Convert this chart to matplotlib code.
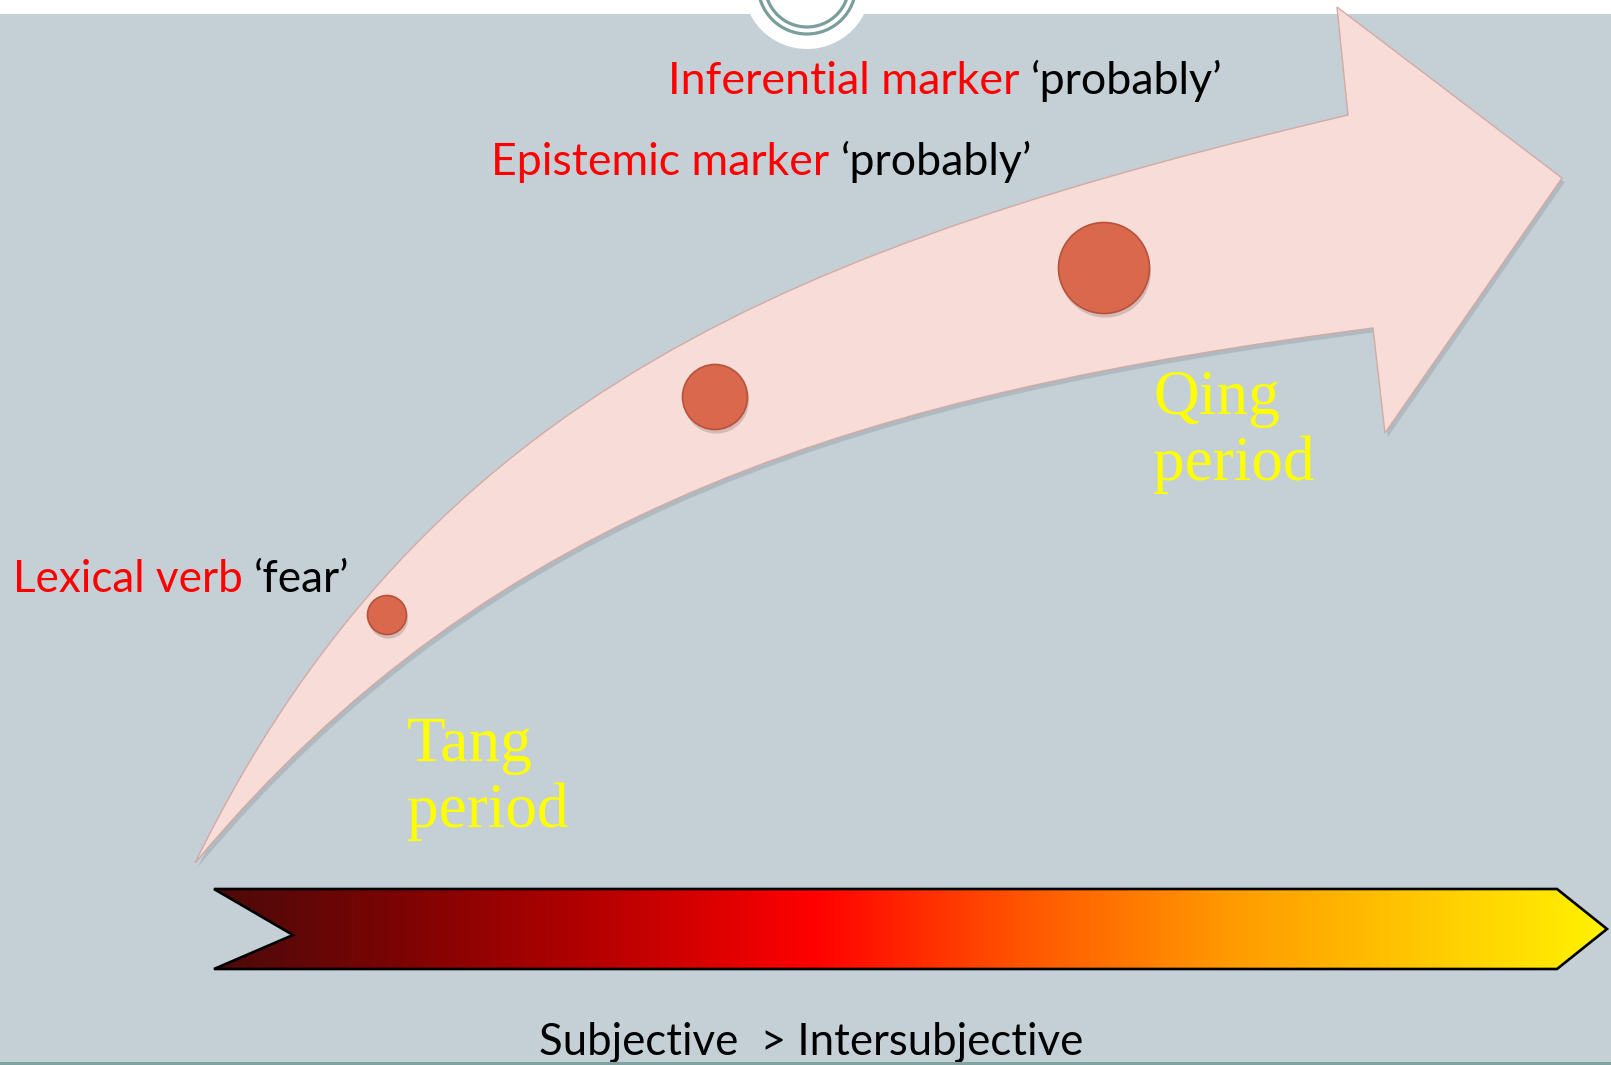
import matplotlib
matplotlib.use("Agg")
import matplotlib.pyplot as plt
import numpy as np
from matplotlib.path import Path
from matplotlib.patches import PathPatch, Circle, Rectangle, Polygon
from matplotlib.colors import LinearSegmentedColormap
import matplotlib.patheffects as pe

# ---------------- data ----------------
stage_terms = ["Lexical verb", "Epistemic marker", "Inferential marker"]
stage_glosses = ["\u2018fear\u2019", "\u2018probably\u2019", "\u2018probably\u2019"]
stage_rank = [1, 2, 3]
period_names = ["Tang", "Qing"]
period_word = "period"
scale_label = "Subjective  > Intersubjective"
gradient_stops = [0.0, 0.12, 0.28, 0.43, 0.58, 0.73, 0.88, 1.0]
gradient_colors = ["#4a0a0a", "#780404", "#b80000", "#ff0000",
                   "#ff5500", "#ff9a00", "#ffcc00", "#fff200"]

# ---------------- layout (pixels, y from top) ----------------
W, H = 1611, 1065
BG = "#c4d0d6"
SANS = ["Lato", "DejaVu Sans"]
SERIF = ["Liberation Serif", "DejaVu Serif"]

fig = plt.figure(figsize=(W / 100, H / 100), dpi=100)
ax = fig.add_axes([0, 0, 1, 1])
ax.set_xlim(0, W)
ax.set_ylim(H, 0)
ax.axis("off")
fig.patch.set_facecolor(BG)
renderer = fig.canvas.get_renderer()

# top white band and ornament
ax.add_patch(Rectangle((0, 0), W, 14, facecolor="white", edgecolor="none", zorder=1))
ax.add_patch(Circle((807, -15), 64, facecolor="white", edgecolor="none", zorder=1))
for r in (49, 42):
    ax.add_patch(Circle((807, -15), r, facecolor="none", edgecolor="#7a9e9b",
                        lw=2.3, zorder=2))

# curved pink arrow
verts = [(195, 863), (425, 392), (800, 245), (1348, 115),
         (1337, 7), (1562, 178), (1385, 433), (1373, 328),
         (873, 393), (495, 503), (195, 863), (195, 863)]
codes = [Path.MOVETO, Path.CURVE4, Path.CURVE4, Path.CURVE4,
         Path.LINETO, Path.LINETO, Path.LINETO, Path.LINETO,
         Path.CURVE4, Path.CURVE4, Path.CURVE4, Path.CLOSEPOLY]
arrow = PathPatch(Path(verts, codes), facecolor="#f7dcd8", edgecolor="#d3aaa6",
                  lw=1.0, zorder=3)
arrow.set_path_effects([pe.SimplePatchShadow(offset=(2, -3), shadow_rgbFace="#7d8a90",
                                             alpha=0.3), pe.Normal()])
ax.add_patch(arrow)

# stage circles
circle_centers = [(387, 615), (715, 397), (1104, 268)]
for (cx, cy), rank in zip(circle_centers, stage_rank):
    c = Circle((cx, cy), 6.5 + 13 * rank, facecolor="#d9684c", edgecolor="#b5533c",
               lw=1.2, zorder=4)
    c.set_path_effects([pe.SimplePatchShadow(offset=(1, -3), shadow_rgbFace="#8a6a66",
                                             alpha=0.3), pe.Normal()])
    ax.add_patch(c)


def width_of(s, size, family):
    t = ax.text(0, 0, s, fontsize=size, family=family)
    w = t.get_window_extent(renderer).width
    t.remove()
    return w


def fitted_text(x, y, parts, colors, target_w, family, base=30):
    full = "".join(parts)
    size = base * target_w / width_of(full, base, family)
    wfull = width_of(full, size, family)
    for i, (p, col) in enumerate(zip(parts, colors)):
        suffix = "".join(parts[i:])
        left = x + wfull - width_of(suffix, size, family)
        ax.text(left, y, p, fontsize=size, family=family, color=col,
                ha="left", va="baseline", zorder=6)


# stage labels
label_pos = [(13, 592, 336), (491, 175, 541), (668, 94, 555)]
for term, gloss, (x, y, tw) in zip(stage_terms, stage_glosses, label_pos):
    fitted_text(x, y, [term + " ", gloss], ["#ff0000", "#000000"], tw, SANS)

# period labels
period_pos = [(407, 761, 827), (1153, 414, 480)]
for name, (x, y1, y2) in zip(period_names, period_pos):
    ax.text(x, y1, name, fontsize=45.5, family=SERIF, color="#ffff00",
            ha="left", va="baseline", zorder=6)
    ax.text(x, y2, period_word, fontsize=45.5, family=SERIF, color="#ffff00",
            ha="left", va="baseline", zorder=6)

# gradient chevron bar
bar_pts = [(214, 889), (1557, 889), (1607, 929), (1557, 969), (214, 969), (293, 935)]
cmap = LinearSegmentedColormap.from_list("heat", list(zip(gradient_stops, gradient_colors)))
grad = np.linspace(0, 1, 512).reshape(1, -1)
im = ax.imshow(grad, cmap=cmap, extent=[214, 1607, 969, 889], aspect="auto",
               interpolation="bilinear", zorder=5)
clip = Polygon(bar_pts, closed=True, facecolor="none", edgecolor="none",
               transform=ax.transData)
im.set_clip_path(clip)
ax.add_patch(Polygon(bar_pts, closed=True, facecolor="none", edgecolor="black",
                     lw=1.9, joinstyle="miter", zorder=6))
ax.set_xlim(0, W)
ax.set_ylim(H, 0)

# bottom caption
fitted_text(539, 1055, [scale_label], ["#000000"], 543, SANS)

# bottom teal rule
ax.add_patch(Rectangle((0, 1062), W, 3, facecolor="#7fa3a3", edgecolor="none", zorder=7))

fig.savefig("out.png", dpi=100, facecolor=BG)
